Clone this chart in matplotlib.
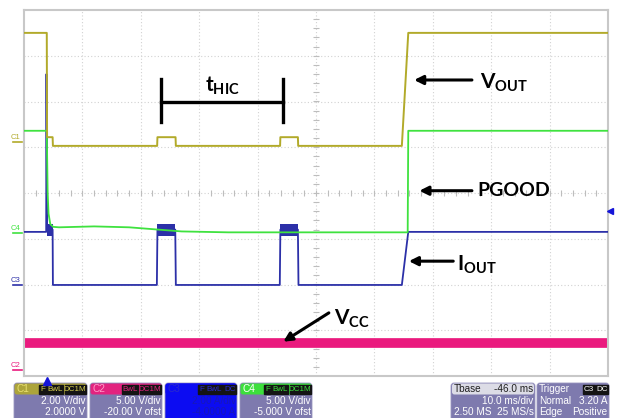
import numpy as np
import matplotlib.pyplot as plt
from matplotlib.patches import FancyBboxPatch, Rectangle

plt.rcParams['mathtext.fontset'] = 'custom'
plt.rcParams['mathtext.bf'] = 'Lato:bold'
plt.rcParams['mathtext.rm'] = 'Lato'
plt.rcParams['mathtext.it'] = 'Lato:italic'

# time in ms (10 ms/div, 10 div), level in divisions (-4..4)
c1_t = [0, 3.9, 3.95, 4.9, 4.95, 22.8, 22.85, 25.95, 26.0, 43.85, 43.9, 46.9, 46.95, 64.7, 65.8, 100]
c1_v = [3.50, 3.50, 1.22, 1.22, 1.03, 1.03, 1.22, 1.22, 1.03, 1.03, 1.22, 1.22, 1.03, 1.03, 3.50, 3.50]

c2_t = [0, 100]
c2_v = [-3.28, -3.28]

c3_t = [0, 3.8, 3.85, 3.95, 4.0, 4.9, 4.95, 22.75, 22.85, 25.9, 26.0, 43.8, 43.9, 46.9, 47.0, 64.7, 65.8, 100]
c3_v = [-0.85, -0.85, 2.6, -0.8, -0.8, -0.8, -2.01, -2.01, -0.8, -0.8, -2.01, -2.01, -0.8, -0.8, -2.01, -2.01, -0.85, -0.85]
# switching-noise envelope of C3 during the hiccup pulses
c3_band_t0 = [3.9, 22.85, 43.9]
c3_band_t1 = [4.95, 25.9, 46.9]
c3_band_lo = -0.95
c3_band_hi = -0.67

c4_t = [0, 3.9, 4.05, 4.2, 4.5, 5.0, 6.0, 12, 18, 23, 27, 35, 65.7, 65.8, 100]
c4_v = [1.36, 1.36, 0.0, -0.45, -0.68, -0.74, -0.75, -0.73, -0.75, -0.80, -0.84, -0.86, -0.86, 1.36, 1.36]

ch_levels = {'C1': 1.11, 'C4': -0.87, 'C3': -2.01, 'C2': -3.87}
trig_t = 3.94
trig_level = -0.39

col = {'C1': '#b2aa2a', 'C2': '#ea1a7e', 'C3': '#2c30a8', 'C4': '#3fe23f'}

fig = plt.figure(figsize=(6.17, 4.18), dpi=100)
fig.patch.set_facecolor('white')

ov = fig.add_axes([0, 0, 1, 1])
ov.set_xlim(0, 617)
ov.set_ylim(418, 0)
ov.axis('off')

ax = fig.add_axes([24 / 617, 42 / 418, 584 / 617, 366 / 418])
ax.set_xlim(0, 100)
ax.set_ylim(-4, 4)
ax.set_xticks([])
ax.set_yticks([])
ax.patch.set_alpha(0)
for s in ax.spines.values():
    s.set_color('#c8c8c8')
    s.set_linewidth(1.5)

# graticule
for gx in range(10, 100, 10):
    ax.axvline(gx, color='#d2d2d2', lw=0.8, ls=(0, (1, 2)), zorder=0)
for gy in range(-3, 4):
    ax.axhline(gy, color='#d2d2d2', lw=0.8, ls=(0, (1, 2)), zorder=0)
tk = np.arange(0, 100.1, 2)
ax.plot(tk, np.zeros_like(tk), ls='none', marker='|', ms=4, mew=0.8, color='#bdbdbd', zorder=0)
tky = np.arange(-4, 4.01, 0.2)
ax.plot(np.full_like(tky, 50), tky, ls='none', marker='_', ms=4, mew=0.8, color='#bdbdbd', zorder=0)

# traces
ax.plot(c2_t, c2_v, color=col['C2'], lw=7, solid_capstyle='butt', zorder=2)
ax.plot(c3_t, c3_v, color=col['C3'], lw=1.3, zorder=3)
for a, b in zip(c3_band_t0, c3_band_t1):
    ax.fill_between([a, b], c3_band_lo, c3_band_hi, color=col['C3'], lw=0, zorder=3)
ax.plot(c4_t, c4_v, color=col['C4'], lw=1.3, zorder=4)
ax.plot(c1_t, c1_v, color=col['C1'], lw=1.4, zorder=5)

# channel level markers on the left
for name, lvl in ch_levels.items():
    yp = 10 + (4 - lvl) * 45.75
    ov.text(20, yp - 1, name, fontsize=5.5, color=col[name], ha='right', va='bottom',
            family='Liberation Sans')
    ov.plot([13, 22], [yp, yp], color=col[name], lw=1.2)

# trigger markers
ax.plot([trig_t], [-4.1], marker='^', color='#1414d8', ms=6, clip_on=False, zorder=6)
ax.plot([100.4], [trig_level], marker='<', color='#1414d8', ms=5, clip_on=False, zorder=6)

# annotations
akw = dict(arrowstyle='-|>', lw=2.2, color='black', mutation_scale=13, shrinkA=0, shrinkB=0)
ax.plot([23.46, 23.46], [1.55, 2.49], color='black', lw=2.4, zorder=7)
ax.plot([44.35, 44.35], [1.55, 2.49], color='black', lw=2.4, zorder=7)
ax.plot([23.46, 44.35], [1.99, 1.99], color='black', lw=2.4, zorder=7)
ax.text(34.0, 2.35, r'$\mathbf{t_{HIC}}$', fontsize=15, ha='center', va='center', zorder=7)

ax.annotate('', xy=(66.8, 2.47), xytext=(76.7, 2.47), arrowprops=akw, zorder=7)
ax.text(78.0, 2.40, r'$\mathbf{V_{OUT}}$', fontsize=15, ha='left', va='center', zorder=7)

ax.annotate('', xy=(67.7, 0.05), xytext=(76.7, 0.05), arrowprops=akw, zorder=7)
ax.text(77.7, 0.06, 'PGOOD', fontsize=14, fontweight='bold', family='Lato', ha='left', va='center', zorder=7)

ax.annotate('', xy=(65.9, -1.49), xytext=(73.5, -1.49), arrowprops=akw, zorder=7)
ax.text(74.2, -1.56, r'$\mathbf{I_{OUT}}$', fontsize=15, ha='left', va='center', zorder=7)

ax.annotate('', xy=(44.4, -3.25), xytext=(52.2, -2.62), arrowprops=akw, zorder=7)
ax.text(53.0, -2.75, r'$\mathbf{V_{CC}}$', fontsize=15, ha='left', va='center', zorder=7)

# status bar
body = '#7e7aae'
boxes = [
    # x0, x1, head colour, body colour, title, title colour, tags, tag colour, lines, text colour
    (14, 87, '#aca43a', body, 'C1', '#e8e070', ['F', 'BwL', 'DC1M'], '#d8d050',
     [('', '2.00 V/div'), ('', '2.0000 V')], 'white'),
    (90, 162, '#e2237f', body, 'C2', '#ff9ac8', ['BwL', 'DC1M'], '#e2237f',
     [('', '5.00 V/div'), ('', '-20.00 V ofst')], 'white'),
    (165, 237, '#0c0cf2', '#0c0cf2', 'C3', '#2a2acc', ['F', 'BwL', 'DC'], '#2a2acc',
     [('', '2.00 A/div'), ('', '-4.0000 A')], '#1818b8'),
    (240, 312, '#3cdf3c', body, 'C4', 'white', ['F', 'BwL', 'DC1M'], '#3cdf3c',
     [('', '5.00 V/div'), ('', '-5.000 V ofst')], 'white'),
]
tb_lines = [('', '10.0 ms/div'), ('2.50 MS', '25 MS/s')]
tr_lines = [('Normal', '3.20 A'), ('Edge', 'Positive')]

sfont = 'Liberation Sans'
fs = 7.2


def draw_tags(x1, tags, tcol):
    xr = x1 - 1.5
    for t in reversed(tags):
        w = 4.6 * len(t) + 2.5
        ov.add_patch(Rectangle((xr - w, 384.5), w, 9, color='#141414', zorder=3))
        ov.text(xr - w / 2, 389.2, t, fontsize=5.8, color=tcol, ha='center', va='center',
                family=sfont, zorder=4)
        xr -= w + 1.2


for x0, x1, hc, bc, title, tc, tags, tagc, lines, txc in boxes:
    ov.add_patch(FancyBboxPatch((x0, 383), x1 - x0, 40, boxstyle='round,pad=0,rounding_size=3',
                                fc=bc, ec='#9a96c0', lw=0.6, zorder=1))
    ov.add_patch(FancyBboxPatch((x0 + 0.5, 383.5), x1 - x0 - 1, 11,
                                boxstyle='round,pad=0,rounding_size=2.5', fc=hc, ec='none', zorder=2))
    ov.text(x0 + 2.5, 389.2, title, fontsize=fs, color=tc, ha='left', va='center', family=sfont, zorder=4)
    draw_tags(x1, tags, tagc)
    for i, (l, r) in enumerate(lines):
        ov.text(x1 - 1.5, 401 + i * 11, r, fontsize=fs, color=txc, ha='right', va='center', family=sfont)

# Tbase box
ov.add_patch(FancyBboxPatch((451, 383), 84, 40, boxstyle='round,pad=0,rounding_size=3',
                            fc=body, ec='#9a96c0', lw=0.6, zorder=1))
ov.add_patch(FancyBboxPatch((452, 383.5), 82, 11, boxstyle='round,pad=0,rounding_size=2.5',
                            fc='#dcdce6', ec='none', zorder=2))
ov.text(453.5, 389.2, 'Tbase', fontsize=fs, color='#202020', ha='left', va='center', family=sfont, zorder=4)
ov.text(533.5, 389.2, '-46.0 ms', fontsize=fs, color='#202020', ha='right', va='center', family=sfont, zorder=4)
for i, (l, r) in enumerate(tb_lines):
    ov.text(453.5, 401 + i * 11, l, fontsize=fs, color='white', ha='left', va='center', family=sfont)
    ov.text(533.5, 401 + i * 11, r, fontsize=fs, color='white', ha='right', va='center', family=sfont)

# Trigger box
ov.add_patch(FancyBboxPatch((537, 383), 72, 40, boxstyle='round,pad=0,rounding_size=3',
                            fc=body, ec='#9a96c0', lw=0.6, zorder=1))
ov.text(539, 389.2, 'Trigger', fontsize=fs, color='white', ha='left', va='center', family=sfont, zorder=4)
draw_tags(609, ['C3', 'DC'], 'white')
for i, (l, r) in enumerate(tr_lines):
    ov.text(539, 401 + i * 11, l, fontsize=fs, color='white', ha='left', va='center', family=sfont)
    ov.text(607.5, 401 + i * 11, r, fontsize=fs, color='white', ha='right', va='center', family=sfont)

fig.savefig('out.png', dpi=100)
